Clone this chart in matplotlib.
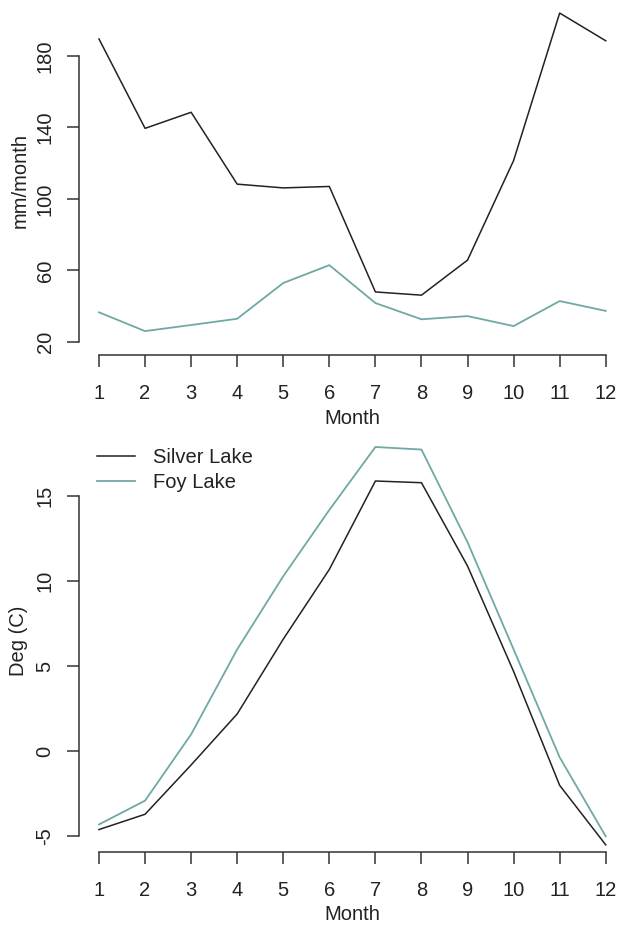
import numpy as np
import matplotlib.pyplot as plt

plt.rcParams['font.family'] = ['Liberation Sans', 'DejaVu Sans']
plt.rcParams['axes.unicode_minus'] = False

# monthly climate normals
months = np.arange(1, 13)
silver_precip = [189.5, 139.5, 148.5, 108.3, 106.2, 107.0, 48.0, 46.2, 65.8, 121.5, 204.0, 188.5]
foy_precip = [36.6, 26.1, 29.5, 33.0, 53.0, 63.0, 41.8, 32.7, 34.5, 28.9, 42.9, 37.4]
silver_temp = [-4.6, -3.7, -0.8, 2.2, 6.6, 10.7, 15.9, 15.8, 10.9, 4.7, -2.0, -5.5]
foy_temp = [-4.3, -2.9, 1.0, 6.0, 10.3, 14.2, 17.9, 17.75, 12.3, 6.0, -0.35, -5.0]
precip_ticks = [20, 60, 100, 140, 180]
temp_ticks = [-5, 0, 5, 10, 15]

c_silver = '#222222'
c_foy = '#6fa8a4'
W, H = 618, 925

fig = plt.figure(figsize=(W / 100, H / 100), dpi=100)

def r_axes(px_left, px_top, px_right, px_bottom):
    # axes placed in pixel coords, like the R plot regions
    ax = fig.add_axes([px_left / W, 1 - px_bottom / H,
                       (px_right - px_left) / W, (px_bottom - px_top) / H])
    for s in ['top', 'right']:
        ax.spines[s].set_visible(False)
    for s in ['left', 'bottom']:
        ax.spines[s].set_color('#333333')
        ax.spines[s].set_linewidth(1.1)
    ax.tick_params(length=8.6, width=1.1, color='#333333', labelsize=14.5,
                   labelcolor='#222222')
    ax.tick_params(axis='x', pad=12)
    ax.tick_params(axis='y', pad=9)
    ax.set_xticks(months)
    ax.set_xlim(0.566, 12.44)
    ax.spines['bottom'].set_bounds(1, 12)
    return ax

# top panel: precipitation
ax1 = r_axes(79, 0, 626, 355)
ax1.plot(months, silver_precip, color=c_silver, lw=1.1)
ax1.plot(months, foy_precip, color=c_foy, lw=1.3)
ax1.set_ylim(12.73, 211.3)
ax1.set_yticks(precip_ticks)
ax1.spines['left'].set_bounds(20, 180)
plt.setp(ax1.get_yticklabels(), rotation=90, va='center')

# bottom panel: temperature
ax2 = r_axes(79, 430, 626, 852)
ax2.plot(months, silver_temp, color=c_silver, lw=1.1, label='Silver Lake')
ax2.plot(months, foy_temp, color=c_foy, lw=1.3, label='Foy Lake')
ax2.set_ylim(-5.92, 18.9)
ax2.set_yticks(temp_ticks)
ax2.spines['left'].set_bounds(-5, 15)
plt.setp(ax2.get_yticklabels(), rotation=90, va='center')
ax2.legend(loc='upper left', bbox_to_anchor=(0.033, 0.958), frameon=False,
           fontsize=14.5, handlelength=1.9, handletextpad=0.9,
           borderaxespad=0, borderpad=0, labelspacing=0.33,
           labelcolor='#222222')

# axis titles
fig.text(352 / W, 1 - 418 / H, 'Month', ha='center', va='center',
         fontsize=14.5, color='#222222')
fig.text(352 / W, 1 - 915 / H, 'Month', ha='center', va='center',
         fontsize=14.5, color='#222222')
fig.text(20 / W, 1 - 180 / H, 'mm/month', ha='center', va='center',
         rotation=90, fontsize=14.5, color='#222222')
fig.text(19 / W, 1 - 641 / H, 'Deg (C)', ha='center', va='center',
         rotation=90, fontsize=14.5, color='#222222')

fig.savefig('out.png', dpi=100)
